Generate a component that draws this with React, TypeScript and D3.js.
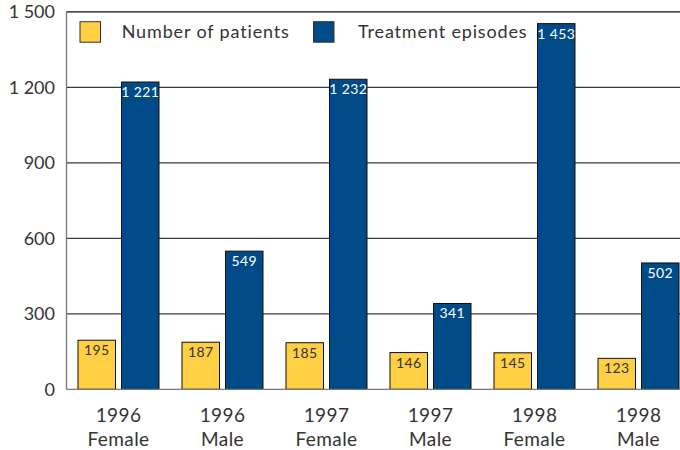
import React from "react";
import * as d3 from "d3";

const categories = [
  ["1996", "Female"],
  ["1996", "Male"],
  ["1997", "Female"],
  ["1997", "Male"],
  ["1998", "Female"],
  ["1998", "Male"],
];
const seriesNames = ["Number of patients", "Treatment episodes"];
const patients = [195, 187, 185, 146, 145, 123];
const episodes = [1221, 549, 1232, 341, 1453, 502];
const yTicks = [0, 300, 600, 900, 1200, 1500];

const colors = ["#FFCF44", "#004A87"];
const W = 680;
const H = 450;
const left = 66.5;
const top = 11.8;
const bottom = 389.3;
const font = "Lato, 'Open Sans', sans-serif";

const fmt = (v: number) => d3.format(",")(v).replace(/,/g, " ");

export default function App() {
  const x = d3
    .scaleBand<number>()
    .domain(d3.range(categories.length))
    .range([left, left + 104 * categories.length]);
  const y = d3.scaleLinear().domain([0, 1500]).range([bottom, top]);
  const barW = 37.5;
  const inner = 11.5;
  const gap = 6;
  const series = [patients, episodes];

  return (
    <svg
      width={W}
      height={H}
      style={{ position: "absolute", left: 0, top: 0, background: "#fff" }}
    >
      {/* gridlines */}
      {yTicks
        .filter((t) => t > 0 && t < 1500)
        .map((t) => (
          <line
            key={t}
            x1={left}
            x2={W}
            y1={y(t)}
            y2={y(t)}
            stroke="#3a3a3a"
            strokeWidth={1.3}
          />
        ))}
      <line x1={left} x2={W} y1={y(1500)} y2={y(1500)} stroke="#111" strokeWidth={1.3} />
      <line x1={left} x2={left} y1={y(1500)} y2={y(0)} stroke="#777" strokeWidth={1.3} />

      {/* bars */}
      {series.map((vals, si) =>
        vals.map((v, i) => {
          const bx = (x(i) as number) + inner + si * (barW + gap);
          return (
            <g key={`${si}-${i}`}>
              <rect
                x={bx}
                y={y(v)}
                width={barW}
                height={y(0) - y(v)}
                fill={colors[si]}
                stroke="#111"
                strokeWidth={1}
              />
              <text
                x={bx + barW / 2}
                y={y(v) + 15}
                textAnchor="middle"
                fontFamily={font}
                fontSize={14}
                letterSpacing={0.4}
                fill={si === 0 ? "#333" : "#fff"}
              >
                {fmt(v)}
              </text>
            </g>
          );
        })
      )}
      <line x1={left} x2={W} y1={y(0)} y2={y(0)} stroke="#777" strokeWidth={1.3} />

      {/* y tick labels */}
      {yTicks.map((t) => (
        <text
          key={t}
          x={55}
          y={y(t) + 6.5}
          textAnchor="end"
          fontFamily={font}
          fontSize={18}
          fill="#333"
        >
          {fmt(t)}
        </text>
      ))}

      {/* category labels */}
      {categories.map((c, i) => {
        const cx = (x(i) as number) + x.bandwidth() / 2;
        return (
          <text
            key={i}
            x={cx}
            textAnchor="middle"
            fontFamily={font}
            fontSize={19}
            letterSpacing={0.4}
            fill="#333"
          >
            <tspan x={cx} y={422}>
              {c[0]}
            </tspan>
            <tspan x={cx} y={446}>
              {c[1]}
            </tspan>
          </text>
        );
      })}

      {/* legend */}
      {seriesNames.map((n, i) => {
        const lx = i === 0 ? 80 : 313.5;
        const tx = i === 0 ? 121.7 : 358;
        return (
          <g key={n}>
            <rect
              x={lx}
              y={21.7}
              width={20.5}
              height={20.5}
              fill={colors[i]}
              stroke="#333"
              strokeWidth={1}
            />
            <text
              x={tx}
              y={37.5}
              fontFamily={font}
              fontSize={18}
              letterSpacing={0.85}
              fill="#333"
            >
              {n}
            </text>
          </g>
        );
      })}
    </svg>
  );
}
